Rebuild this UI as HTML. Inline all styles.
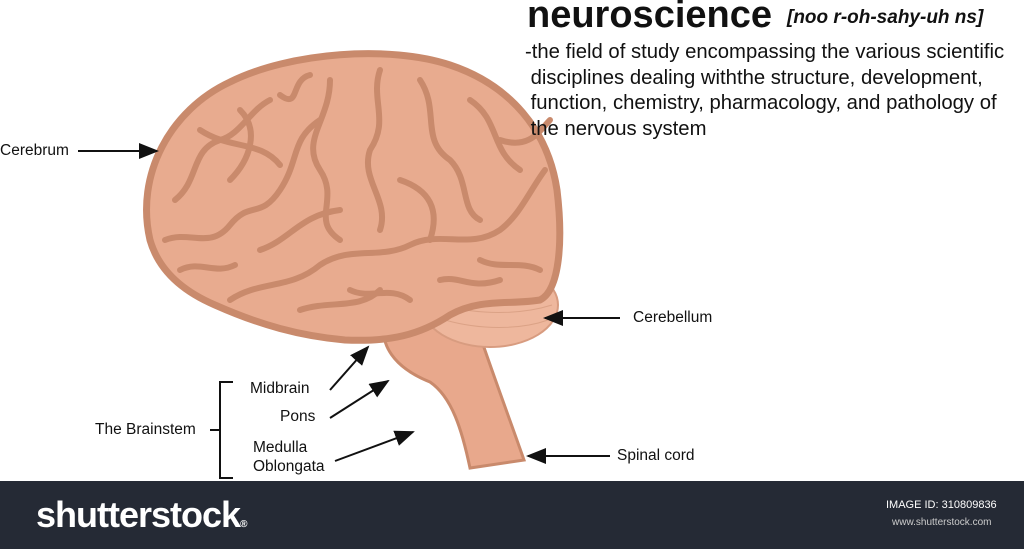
<!DOCTYPE html>
<html><head><meta charset="utf-8"><style>
body{margin:0;width:1024px;height:549px;overflow:hidden;background:#fff;font-family:"Liberation Sans",sans-serif;}
.t{position:absolute;color:#111;white-space:nowrap}
</style></head><body>
<svg width="1024" height="549" style="position:absolute;left:0;top:0">
<defs><marker id="a" markerWidth="10" markerHeight="8" refX="9" refY="4" orient="auto"><path d="M0,0 L10,4 L0,8 Z" fill="#111"/></marker></defs>
<path d="M385,318 C378,345 395,368 430,382 C452,397 462,430 470,468 L524,460 C510,420 495,380 478,330 Z" fill="#e8a88c" stroke="#c98a6c" stroke-width="3"/>
<ellipse cx="490" cy="305" rx="68" ry="42" fill="#eeb79d" stroke="#d89c80" stroke-width="2"/>
<path d="M440,290 C470,300 510,300 550,290 M440,305 C480,315 520,315 552,305 M445,320 C480,330 520,330 548,320" stroke="#dba286" fill="none" stroke-width="1"/>
<path d="M150,240 C135,175 170,110 230,82 C290,52 390,45 450,65 C510,85 548,130 557,190 C563,240 560,290 540,300 C510,305 480,298 450,315 C420,335 390,342 345,340 C300,336 260,325 215,305 C180,290 158,268 150,240 Z" fill="#e8ab8f" stroke="#c98a6c" stroke-width="7"/>
<g stroke="#c98a6c" stroke-width="6" fill="none" stroke-linecap="round">
<path d="M175,200 C200,180 190,150 220,140 C240,135 250,110 270,100"/>
<path d="M165,240 C190,230 210,250 230,225 C250,200 260,220 280,190 C300,160 290,140 320,120"/>
<path d="M230,300 C260,280 290,290 320,265 C350,245 380,260 410,245 C440,230 470,250 500,230 C520,215 530,190 545,170"/>
<path d="M330,80 C330,120 300,140 320,170 C340,200 310,220 340,240"/>
<path d="M380,70 C370,100 390,120 370,150 C360,180 390,200 380,230"/>
<path d="M420,80 C440,110 420,140 450,160 C470,180 460,210 480,220"/>
<path d="M470,100 C500,120 490,150 520,170"/>
<path d="M200,130 C230,150 260,140 280,165"/>
<path d="M260,250 C290,240 300,215 340,210"/>
<path d="M400,180 C430,190 440,210 430,240"/>
<path d="M300,310 C330,300 360,310 380,290"/>
<path d="M480,260 C500,270 520,260 540,270"/>
<path d="M240,110 C260,130 250,160 230,180"/>
<path d="M500,140 C530,150 540,130 550,120"/>
<path d="M180,270 C200,260 215,275 235,265"/>
<path d="M280,95 C300,110 290,80 310,75"/>
<path d="M440,280 C460,275 470,290 500,280"/>
<path d="M350,290 C370,300 390,285 410,300"/>
</g>
<g stroke="#111" stroke-width="2" fill="none" marker-end="url(#a)">
<line x1="78" y1="151" x2="157" y2="151"/>
<line x1="620" y1="318" x2="545" y2="318"/>
<line x1="610" y1="456" x2="528" y2="456"/>
<line x1="330" y1="390" x2="368" y2="347"/>
<line x1="330" y1="418" x2="388" y2="381"/>
<line x1="335" y1="461" x2="413" y2="432"/>
</g>
<path d="M233,382 H220 V478 H233 M210,430 H220" stroke="#111" stroke-width="2" fill="none"/>
<rect x="0" y="481" width="1024" height="68" fill="#252a35"/>
</svg>
<div class="t" style="left:527px;top:-6px;font-size:38px;font-weight:bold">neuroscience</div>
<div class="t" style="left:787px;top:7px;font-size:19px;font-weight:bold;font-style:italic">[noo r-oh-sahy-uh ns]</div>
<div class="t" style="left:525px;top:40px;font-size:20.3px;line-height:25.5px">-the field of study encompassing the various scientific<br>&nbsp;disciplines dealing withthe structure, development,<br>&nbsp;function, chemistry, pharmacology, and pathology of<br>&nbsp;the nervous system</div>
<div class="t" style="left:0;top:142px;font-size:15.5px">Cerebrum</div>
<div class="t" style="left:633px;top:309px;font-size:15.5px">Cerebellum</div>
<div class="t" style="left:617px;top:447px;font-size:15.5px">Spinal cord</div>
<div class="t" style="left:250px;top:380px;font-size:15.5px">Midbrain</div>
<div class="t" style="left:280px;top:408px;font-size:15.5px">Pons</div>
<div class="t" style="left:95px;top:421px;font-size:15.5px">The Brainstem</div>
<div class="t" style="left:253px;top:438px;font-size:15.5px;line-height:19px">Medulla<br>Oblongata</div>
<div class="t" style="left:36px;top:494px;font-size:36px;font-weight:bold;color:#fff;letter-spacing:-1px">shutterstock<span style="font-size:10px">®</span></div>
<div class="t" style="left:886px;top:499px;font-size:11px;color:#fff">IMAGE ID: 310809836</div>
<div class="t" style="left:892px;top:517px;font-size:10px;color:#ccc">www.shutterstock.com</div>
</body></html>
